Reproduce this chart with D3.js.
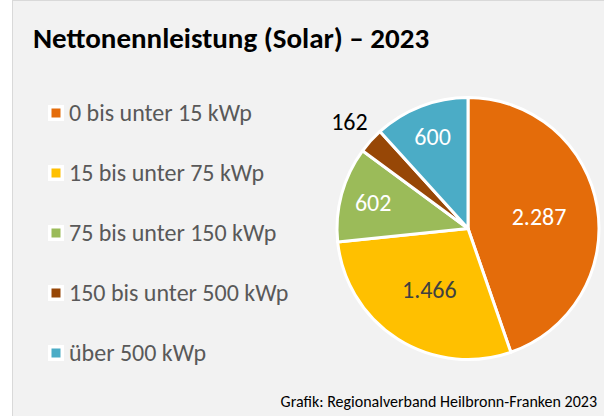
<!DOCTYPE html>
<html>
<head>
<meta charset="utf-8">
<script src="https://cdn.jsdelivr.net/npm/d3@7"></script>
<style>
  body { margin: 0; background: #fff; }
  svg { display: block; font-family: Carlito, Calibri, Lato, sans-serif; }
</style>
</head>
<body>
<div id="chart-area"></div>
<script>
var width = 604,
    height = 416;

// data
var categories = ["0 bis unter 15 kWp", "15 bis unter 75 kWp", "75 bis unter 150 kWp",
                  "150 bis unter 500 kWp", "über 500 kWp"];
var values = [2287, 1466, 602, 162, 600];
var colors = ["#E46C0A", "#FFC000", "#9BBB59", "#974706", "#4BACC6"];
var labelColors = ["#fff", "#404040", "#fff", "#000", "#fff"];

var fmt = d3.formatLocale({ decimal: ",", thousands: ".", grouping: [3], currency: ["", "€"] }).format(",");

var svg = d3.select("#chart-area").append("svg")
    .attr("width", width)
    .attr("height", height);

// chart area background
svg.append("rect")
    .attr("x", 12.5)
    .attr("y", 0.5)
    .attr("width", width)
    .attr("height", height)
    .attr("fill", "#f2f2f2")
    .attr("stroke", "#d9d9d9");

svg.append("text")
    .attr("x", 33)
    .attr("y", 48)
    .attr("font-size", 29)
    .attr("font-weight", "bold")
    .attr("fill", "#000")
    .text("Nettonennleistung (Solar) – 2023");

// legend
var legendY = d3.scalePoint()
    .domain(categories)
    .range([121, 361]);

var legend = svg.selectAll(".legend")
    .data(categories)
    .enter().append("g")
    .attr("class", "legend")
    .attr("transform", d => "translate(0," + legendY(d) + ")");

legend.append("rect")
    .attr("x", 48)
    .attr("y", -16)
    .attr("width", 16)
    .attr("height", 16)
    .attr("fill", "#fff");

legend.append("rect")
    .attr("x", 51.5)
    .attr("y", -12.5)
    .attr("width", 9)
    .attr("height", 9)
    .attr("fill", (d, i) => colors[i]);

legend.append("text")
    .attr("x", 69)
    .attr("y", 0)
    .attr("font-size", 24)
    .attr("fill", "#595959")
    .text(d => d);

// pie
var radius = 131;
var cx = 468, cy = 228.5;

var pie = d3.pie().sort(null);
var arcs = pie(values);
var total = d3.sum(values);

var arc = d3.arc().innerRadius(0).outerRadius(radius);

var g = svg.append("g")
    .attr("transform", "translate(" + cx + "," + cy + ")");

g.selectAll(".slice")
    .data(arcs)
    .enter().append("path")
    .attr("class", "slice")
    .attr("d", arc)
    .attr("fill", (d, i) => colors[i])
    .attr("stroke", "#fff")
    .attr("stroke-width", 3)
    .attr("stroke-linejoin", "round");

function labelRadius(d) {
    var frac = d.value / total;
    if (frac < 0.05) return radius * 1.22;   // small slice -> outside
    if (d.endAngle - d.startAngle > Math.PI / 2) return radius * 0.55;
    return radius * 0.75;
}

g.selectAll(".label")
    .data(arcs)
    .enter().append("text")
    .attr("class", "label")
    .attr("transform", function(d) {
        var r = labelRadius(d);
        return "translate(" + d3.arc().innerRadius(r).outerRadius(r).centroid(d) + ")";
    })
    .attr("text-anchor", "middle")
    .attr("dy", "0.36em")
    .attr("font-size", 24)
    .attr("fill", (d, i) => labelColors[i])
    .text(d => fmt(d.value));

svg.append("text")
    .attr("x", 597)
    .attr("y", 407)
    .attr("text-anchor", "end")
    .attr("font-size", 16)
    .attr("fill", "#000")
    .text("Grafik: Regionalverband Heilbronn-Franken 2023");
</script>
</body>
</html>
